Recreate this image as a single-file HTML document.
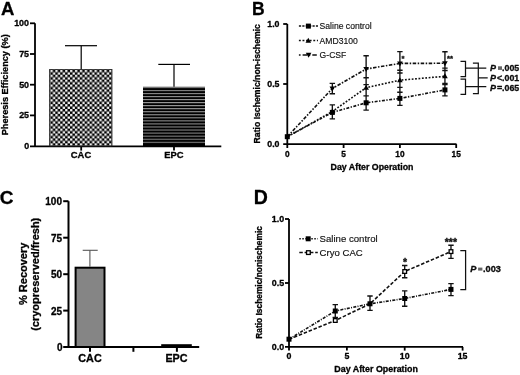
<!DOCTYPE html>
<html><head><meta charset="utf-8">
<style>
html,body{margin:0;padding:0;background:#fff;width:520px;height:375px;overflow:hidden}
svg{display:block;filter:grayscale(1)}
text{font-family:"Liberation Sans",sans-serif}
.b{font-weight:bold;stroke:#000;stroke-width:0.3px;stroke-linejoin:round}
</style></head><body>
<svg width="520" height="375" viewBox="0 0 520 375">
<defs>
<pattern id="chk" patternUnits="userSpaceOnUse" x="50.4" y="69.8" width="4.9" height="4.9">
<rect width="4.9" height="4.9" fill="#000"/>
<rect x="0.08" y="0.08" width="2.3" height="2.3" fill="#fff"/>
<rect x="2.53" y="2.53" width="2.3" height="2.3" fill="#fff"/>
</pattern>
<pattern id="str" patternUnits="userSpaceOnUse" x="0" y="89.9" width="10" height="3.05">
<rect width="10" height="3.05" fill="#000"/>
<rect x="0" y="0" width="10" height="1" fill="#9a9a9a"/>
</pattern>
</defs>

<!-- ================= PANEL A ================= -->
<text class="b" x="0.9" y="14.7" font-size="18.5">A</text>
<g stroke="#000" stroke-width="1.8" fill="none">
<line x1="35" y1="23.3" x2="35" y2="146.4"/>
<line x1="30" y1="146.4" x2="221.3" y2="146.4"/>
<line x1="30" y1="23.3" x2="35" y2="23.3"/>
<line x1="30" y1="54" x2="35" y2="54"/>
<line x1="30" y1="84.7" x2="35" y2="84.7"/>
<line x1="30" y1="115.4" x2="35" y2="115.4"/>
<line x1="81.2" y1="146.4" x2="81.2" y2="150.6"/>
<line x1="174" y1="146.4" x2="174" y2="150.6"/>
</g>
<g class="b" font-size="8.9" text-anchor="end">
<text x="29" y="26.2">100</text>
<text x="29" y="56.9">75</text>
<text x="29" y="87.6">50</text>
<text x="29" y="118.3">25</text>
<text x="29.2" y="149.4">0</text>
</g>
<rect x="49.6" y="69.4" width="62.4" height="76.6" fill="url(#chk)" stroke="#222" stroke-width="0.8"/>
<rect x="143" y="86.8" width="62" height="59.2" fill="url(#str)"/>
<rect x="143" y="143.6" width="62" height="2.6" fill="#000"/>
<g stroke="#000" stroke-width="1.2">
<line x1="81.2" y1="45.7" x2="81.2" y2="69"/>
<line x1="65" y1="45.7" x2="97" y2="45.7"/>
<line x1="174" y1="64.4" x2="174" y2="86.8"/>
<line x1="158.3" y1="64.4" x2="190" y2="64.4"/>
</g>
<g class="b" font-size="9.4" text-anchor="middle">
<text x="81" y="158">CAC</text>
<text x="174" y="158">EPC</text>
</g>
<text class="b" font-size="9.2" text-anchor="middle" transform="translate(7.7 84.75) rotate(-90)">Pheresis Efficiency (%)</text>

<!-- ================= PANEL C ================= -->
<text class="b" x="-0.2" y="203.8" font-size="19">C</text>
<g stroke="#000" stroke-width="2" fill="none">
<line x1="68.5" y1="201.2" x2="68.5" y2="347"/>
<line x1="63.2" y1="347" x2="199.2" y2="347"/>
<line x1="63.2" y1="201.2" x2="68.5" y2="201.2"/>
<line x1="63.2" y1="237.7" x2="68.5" y2="237.7"/>
<line x1="63.2" y1="274.2" x2="68.5" y2="274.2"/>
<line x1="63.2" y1="310.6" x2="68.5" y2="310.6"/>
<line x1="90" y1="347" x2="90" y2="351.8"/>
<line x1="133.4" y1="347" x2="133.4" y2="351.8"/>
<line x1="176.9" y1="347" x2="176.9" y2="351.8"/>
</g>
<g class="b" font-size="10" text-anchor="end">
<text x="62" y="205.2">100</text>
<text x="62" y="241.7">75</text>
<text x="62" y="278.2">50</text>
<text x="62" y="314.6">25</text>
<text x="62.5" y="351">0</text>
</g>
<rect x="75.6" y="267.7" width="28.9" height="79.3" fill="#858585" stroke="#000" stroke-width="2"/>
<rect x="161.2" y="344.2" width="30.6" height="3" fill="#000"/>
<g stroke="#555" stroke-width="1.1">
<line x1="89.9" y1="250.3" x2="89.9" y2="266.7"/>
<line x1="82.7" y1="250.3" x2="97.7" y2="250.3"/>
</g>
<g class="b" font-size="10.8" text-anchor="middle">
<text x="90" y="361.8">CAC</text>
<text x="176.5" y="361.8">EPC</text>
</g>
<g class="b" font-size="11" text-anchor="middle">
<text transform="translate(26.7 273.8) rotate(-90)">% Recovery</text>
<text transform="translate(39 274.3) rotate(-90)">(cryopreserved/fresh)</text>
</g>

<!-- ================= PANEL B ================= -->
<text class="b" x="252" y="15" font-size="17.5">B</text>
<g stroke="#000" stroke-width="1.8" fill="none">
<line x1="287.3" y1="24" x2="287.3" y2="144.1"/>
<line x1="283.2" y1="144.1" x2="456.5" y2="144.1"/>
<line x1="283.2" y1="24" x2="287.3" y2="24"/>
<line x1="283.2" y1="84" x2="287.3" y2="84"/>
<line x1="343.6" y1="144.1" x2="343.6" y2="148"/>
<line x1="399.9" y1="144.1" x2="399.9" y2="148"/>
<line x1="456.2" y1="144.1" x2="456.2" y2="148"/>
<line x1="287.3" y1="144.1" x2="287.3" y2="148"/>
</g>
<g class="b" font-size="8.8" text-anchor="end">
<text x="279.5" y="26.9">1.0</text>
<text x="279.5" y="87">0.5</text>
<text x="279.5" y="147.1">0.0</text>
</g>
<g class="b" font-size="8.3" text-anchor="middle">
<text x="287.3" y="156.5">0</text>
<text x="343.6" y="156.5">5</text>
<text x="399.9" y="156.5">10</text>
<text x="456.2" y="156.5">15</text>
</g>
<text class="b" font-size="8.8" x="372" y="170.4" text-anchor="middle">Day After Operation</text>
<text class="b" font-size="8.67" text-anchor="middle" transform="translate(260 83.75) rotate(-90)">Ratio Ischemic/non-ischemic</text>

<!-- B legend -->
<g stroke="#111" stroke-width="1.5" fill="none">
<line x1="298.9" y1="26.1" x2="318" y2="26.1" stroke-dasharray="2.2 1.2"/>
<line x1="298.9" y1="40.6" x2="318" y2="40.6" stroke-dasharray="1.9 1.7"/>
<line x1="298.9" y1="54.9" x2="318" y2="54.9" stroke-dasharray="1.7 2 4.5 1.5"/>
</g>
<g fill="#000">
<rect x="305.90" y="23.60" width="5.00" height="5.00" fill="#000"/>
<path d="M308.30 37.70L311.10 42.70H305.50Z"/>
<path d="M308.60 57.70L311.40 52.70H305.80Z"/>
</g>
<g font-size="8.6" fill="#111" stroke="#111" stroke-width="0.15">
<text x="319.6" y="29.2">Saline control</text>
<text x="319.6" y="44">AMD3100</text>
<text x="319.6" y="58">G-CSF</text>
</g>

<!-- B data -->
<g stroke="#111" stroke-width="1.6" fill="none">
<polyline points="287.30,136.70 332.34,88.50 366.12,69.00 399.90,63.40 444.94,63.30" stroke-dasharray="3.5 1.5 1.5 1.5"/>
<polyline points="287.30,136.70 332.34,111.50 366.12,87.70 399.90,80.20 444.94,76.30" stroke-dasharray="1.8 1.6"/>
<polyline points="287.30,136.70 332.34,112.40 366.12,102.80 399.90,98.40 444.94,89.90" stroke-dasharray="3 1.5 1.3 1.5"/>
</g>
<g stroke="#111" stroke-width="1.35" fill="none">
<path d="M332.34 83.40V93.70M329.64 83.40h5.4M329.64 93.70h5.4"/>
<path d="M332.34 104.90V118.90M329.64 104.90h5.4M329.64 118.90h5.4"/>
<path d="M366.12 55.70V110.10M363.42 55.70h5.4M363.42 77.70h5.4M363.42 84.60h5.4M363.42 95.90h5.4M363.42 110.10h5.4"/>
<path d="M399.90 51.60V105.40M397.20 51.60h5.4M397.20 70.20h5.4M397.20 73.00h5.4M397.20 87.30h5.4M397.20 92.20h5.4M397.20 105.40h5.4"/>
<path d="M444.94 51.70V95.90M442.24 51.70h5.4M442.24 68.10h5.4M442.24 70.50h5.4M442.24 83.50h5.4M442.24 84.50h5.4M442.24 95.90h5.4"/>
</g>
<g fill="#000">
<rect x="284.80" y="134.20" width="5.00" height="5.00" fill="#000"/>
<rect x="329.84" y="109.90" width="5.00" height="5.00" fill="#000"/>
<rect x="363.62" y="100.30" width="5.00" height="5.00" fill="#000"/>
<rect x="397.40" y="95.90" width="5.00" height="5.00" fill="#000"/>
<rect x="442.44" y="87.40" width="5.00" height="5.00" fill="#000"/>
<path d="M332.34 108.50L335.14 113.50H329.54Z"/>
<path d="M366.12 84.70L368.92 89.70H363.32Z"/>
<path d="M399.90 77.20L402.70 82.20H397.10Z"/>
<path d="M444.94 73.30L447.74 78.30H442.14Z"/>
<path d="M332.34 91.50L335.14 86.50H329.54Z"/>
<path d="M366.12 72.00L368.92 67.00H363.32Z"/>
<path d="M399.90 66.40L402.70 61.40H397.10Z"/>
<path d="M444.94 66.30L447.74 61.30H442.14Z"/>
</g>
<g class="b" font-size="7.7" fill="#222" text-anchor="middle">
<text x="403" y="60.8">*</text>
<text x="450" y="60.8">**</text>
</g>
<!-- B brackets -->
<g stroke="#111" stroke-width="1.25" fill="none">
<path d="M460.5 61.4H465.5V76.6H460.5"/>
<path d="M460.5 79.2H465.5V94.4H460.5"/>
<path d="M472.9 63H478.3V93.7H472.9"/>
<path d="M465.5 68.2H486.3M478.3 77.9H487.7M465.5 86.6H486.3"/>
</g>
<g class="b" font-size="9" fill="#111">
<text x="490" y="71" font-style="italic">P</text>
<text x="490" y="80.9" font-style="italic">P</text>
<text x="490" y="90.7" font-style="italic">P</text>
<text x="496.9" y="80.9">&lt;</text>
<text x="496.9" y="90.7">=</text>
<text x="502.1" y="71" font-size="8.8">.005</text>
<text x="502.1" y="80.9" font-size="8.8">.001</text>
<text x="502.1" y="90.7" font-size="8.8">.065</text>
</g>
<rect x="498" y="66.3" width="4" height="3.6" fill="#666"/>

<!-- ================= PANEL D ================= -->
<text class="b" x="253.7" y="203.8" font-size="19.5">D</text>
<g stroke="#000" stroke-width="1.8" fill="none">
<line x1="289" y1="219" x2="289" y2="346.9"/>
<line x1="285" y1="346.9" x2="463" y2="346.9"/>
<line x1="285" y1="219" x2="289" y2="219"/>
<line x1="285" y1="283" x2="289" y2="283"/>
<line x1="289" y1="346.9" x2="289" y2="350.6"/>
<line x1="346.9" y1="346.9" x2="346.9" y2="350.6"/>
<line x1="404.7" y1="346.9" x2="404.7" y2="350.6"/>
<line x1="462.6" y1="346.9" x2="462.6" y2="350.6"/>
</g>
<g class="b" font-size="8.9" text-anchor="end">
<text x="284.1" y="222.1">1.0</text>
<text x="284.1" y="286">0.5</text>
<text x="284.1" y="350">0.0</text>
</g>
<g class="b" font-size="8.8" text-anchor="middle">
<text x="289" y="359.4">0</text>
<text x="346.9" y="359.4">5</text>
<text x="404.7" y="359.4">10</text>
<text x="462.6" y="359.4">15</text>
</g>
<text class="b" font-size="8.9" x="376.1" y="372.4" text-anchor="middle">Day After Operation</text>
<text class="b" font-size="8.38" text-anchor="middle" transform="translate(261.6 282.45) rotate(-90)">Ratio Ischemic/nonischemic</text>

<!-- D legend -->
<g stroke="#111" stroke-width="1.5" fill="none">
<line x1="299.3" y1="238.8" x2="317.8" y2="238.8" stroke-dasharray="1.5 1.5"/>
<line x1="299.3" y1="252.6" x2="317.8" y2="252.6" stroke-dasharray="3.5 1.8"/>
</g>
<rect x="305.70" y="236.30" width="5.00" height="5.00" fill="#000"/>
<rect x="306.55" y="250.75" width="3.70" height="3.70" fill="#fff" stroke="#000" stroke-width="1.3"/>
<g font-size="9.6" fill="#111" stroke="#111" stroke-width="0.15">
<text x="319.6" y="242.1">Saline control</text>
<text x="319.6" y="255.9">Cryo CAC</text>
</g>

<!-- D data -->
<g stroke="#111" stroke-width="1.6" fill="none">
<polyline points="289.00,339.20 335.28,311.00 369.99,303.80 404.70,298.50 450.98,289.40" stroke-dasharray="3 1.3 1 1.3"/>
<polyline points="289.00,339.20 335.28,320.50 369.99,303.80 404.70,271.50 450.98,251.60" stroke-dasharray="3.5 1.8"/>
</g>
<g stroke="#111" stroke-width="1.35" fill="none">
<path d="M335.28 304.60V317.40M332.58 304.60h5.4M332.58 317.40h5.4"/>
<path d="M369.99 296.00V310.40M367.29 296.00h5.4M367.29 310.40h5.4"/>
<path d="M404.70 290.80V306.20M402.00 290.80h5.4M402.00 306.20h5.4"/>
<path d="M404.70 265.50V277.70M402.00 265.50h5.4M402.00 277.70h5.4"/>
<path d="M450.98 283.60V295.60M448.28 283.60h5.4M448.28 295.60h5.4"/>
<path d="M450.98 245.20V258.30M448.28 245.20h5.4M448.28 258.30h5.4"/>
</g>
<g fill="#000">
<rect x="286.50" y="336.70" width="5.00" height="5.00" fill="#000"/>
<rect x="332.78" y="308.50" width="5.00" height="5.00" fill="#000"/>
<rect x="367.49" y="301.30" width="5.00" height="5.00" fill="#000"/>
<rect x="402.20" y="296.00" width="5.00" height="5.00" fill="#000"/>
<rect x="448.48" y="286.90" width="5.00" height="5.00" fill="#000"/>
<rect x="333.43" y="318.65" width="3.70" height="3.70" fill="#fff" stroke="#000" stroke-width="1.3"/>
<rect x="402.85" y="269.65" width="3.70" height="3.70" fill="#fff" stroke="#000" stroke-width="1.3"/>
<rect x="449.13" y="249.75" width="3.70" height="3.70" fill="#fff" stroke="#000" stroke-width="1.3"/>
</g>
<g class="b" font-size="10.5" fill="#111" text-anchor="middle">
<text x="405" y="265.9">*</text>
<text x="450.9" y="246.1">***</text>
</g>
<path d="M460.3 250.6H465.6V289.7H460.3" stroke="#111" stroke-width="1.25" fill="none"/>
<text class="b" font-size="9.2" fill="#111" x="470.3" y="271.9" font-style="italic">P</text>
<rect x="478.1" y="267.6" width="4.3" height="3" fill="#666"/>
<text class="b" font-size="9.2" fill="#111" x="483" y="271.9">.003</text>
</svg>
</body></html>
